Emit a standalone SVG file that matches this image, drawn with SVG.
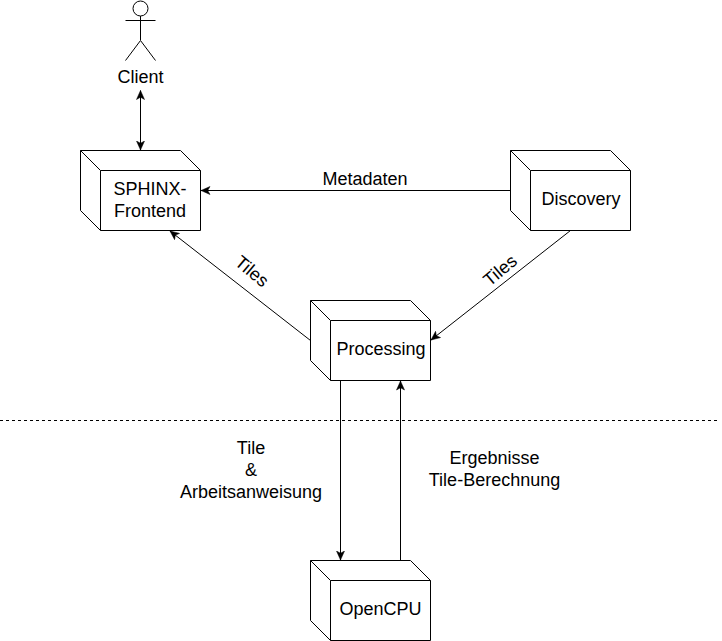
<svg xmlns="http://www.w3.org/2000/svg" width="722" height="641" viewBox="0 0 722 641">
<defs>
<style>
.s{fill:none;stroke:#000;stroke-width:1}
.f{fill:#fff;stroke:#000;stroke-width:1}
text{font-family:"Liberation Sans",Arial,sans-serif;font-size:18px;fill:#000;text-anchor:middle}
</style>
<path id="box" class="f" d="M0.5 0.5H100.5L120.5 20.5V80.5H20.5L0.5 60.5ZM0.5 0.5L20.5 20.5H120.5M20.5 20.5V80.5"/>
<marker id="a" viewBox="0 0 10 9" refX="9.500" refY="4.500" markerWidth="10" markerHeight="9" orient="auto-start-reverse" markerUnits="userSpaceOnUse"><path d="M0.500 0.500L9.500 4.500L0.500 8.500L2.800 4.500Z" fill="#000" stroke="#000" stroke-width=".5"/></marker>
</defs>
<rect width="722" height="641" fill="#fff"/>
<g id="connectors">
<path class="s" d="M140.500 90.500V150" marker-start="url(#a)" marker-end="url(#a)"/>
<path class="s" d="M510.500 190.500H201" marker-end="url(#a)"/>
<path class="s" d="M310.500 340.500L170 231" marker-end="url(#a)"/>
<path class="s" d="M570.500 230.500L431 340" marker-end="url(#a)"/>
<path class="s" d="M340.500 380.500V560" marker-end="url(#a)"/>
<path class="s" d="M400.500 560.500V381" marker-end="url(#a)"/>
<path class="s" d="M0 420.500H718" stroke-dasharray="3 3"/>
</g>
<g id="client">
<circle class="s" cx="140.500" cy="8.500" r="7.500"/>
<path class="s" d="M140.500 16V40M125.500 20.500H155.500M125.500 60.500L140.500 40.500L155.500 60.500"/>
<text x="140.500" y="83">Client</text>
</g>
<g id="sphinx"><use href="#box" x="80" y="150"/><text x="150" y="195">SPHINX-</text><text x="150" y="217">Frontend</text></g>
<g id="discovery"><use href="#box" x="510" y="150"/><text x="581" y="205">Discovery</text></g>
<g id="processing"><use href="#box" x="310" y="300"/><text x="381" y="355">Processing</text></g>
<g id="opencpu"><use href="#box" x="310" y="560"/><text x="380.500" y="615">OpenCPU</text></g>
<g id="labels">
<text x="365" y="185">Metadaten</text>
<text transform="translate(248 276) rotate(40)">Tiles</text>
<text transform="translate(504 275) rotate(-40)">Tiles</text>
<text x="251" y="454">Tile</text>
<text x="251" y="476">&amp;</text>
<text x="251" y="498">Arbeitsanweisung</text>
<text x="494.500" y="464">Ergebnisse</text>
<text x="494.500" y="486">Tile-Berechnung</text>
</g>
</svg>
